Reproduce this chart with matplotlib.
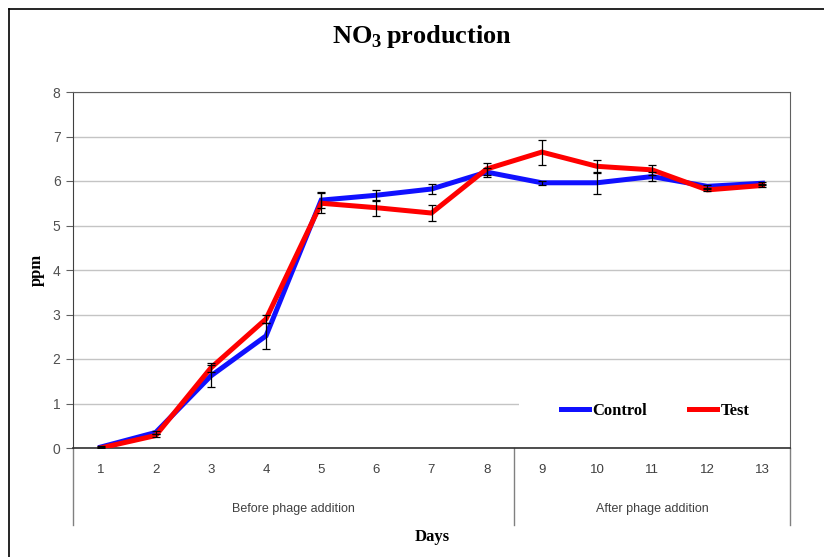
import numpy as np
import matplotlib.pyplot as plt
from matplotlib.patches import Rectangle
from matplotlib.lines import Line2D
import matplotlib.transforms as mtrans

plt.rcParams['mathtext.fontset'] = 'custom'
plt.rcParams['mathtext.rm'] = 'Liberation Serif:bold'
plt.rcParams['mathtext.bf'] = 'Liberation Serif:bold'

# data
days = [1, 2, 3, 4, 5, 6, 7, 8, 9, 10, 11, 12, 13]
control = [0.02, 0.35, 1.62, 2.52, 5.57, 5.68, 5.82, 6.20, 5.96, 5.96, 6.10, 5.88, 5.95]
control_err = [0.02, 0.03, 0.25, 0.30, 0.18, 0.12, 0.11, 0.10, 0.05, 0.25, 0.10, 0.03, 0.03]
test = [0.00, 0.28, 1.80, 2.90, 5.50, 5.40, 5.28, 6.27, 6.65, 6.33, 6.25, 5.80, 5.90]
test_err = [0.02, 0.03, 0.10, 0.08, 0.22, 0.18, 0.17, 0.13, 0.28, 0.14, 0.12, 0.03, 0.03]
groups = ['Before phage addition', 'After phage addition']
group_edges = [0.5, 8.5, 13.5]

serif = ['Liberation Serif', 'DejaVu Serif']
narrow = ['Liberation Sans Narrow', 'Liberation Sans', 'DejaVu Sans']

fig = plt.figure(figsize=(8.24, 5.57), dpi=100)
ax = fig.add_axes([73/824, 1 - 448/557, 717/824, 356/557])

# frame around the chart area
fig.add_artist(Line2D([9/824, 1], [1 - 9/557, 1 - 9/557], color='black', lw=1.2))
fig.add_artist(Line2D([9/824, 9/824], [0, 1 - 9/557], color='black', lw=1.2))

ax.plot(days, control, color='#1010ff', lw=3.6, label='Control', zorder=3, solid_joinstyle='miter')
ax.plot(days, test, color='#ff0000', lw=3.6, label='Test', zorder=4, solid_joinstyle='miter')
ax.errorbar(days, control, yerr=control_err, fmt='none', ecolor='black', elinewidth=0.9, capsize=3, capthick=0.9, zorder=5)
ax.errorbar(days, test, yerr=test_err, fmt='none', ecolor='black', elinewidth=0.9, capsize=3, capthick=0.9, zorder=5)

ax.set_xlim(0.5, 13.5)
ax.set_ylim(0, 8)
ax.set_yticks(range(0, 9))
ax.yaxis.grid(True, color='#c4c4c4', lw=1.0)
ax.set_axisbelow(True)

# white box behind legend hides the gridline
ax.add_patch(Rectangle((0.622, 0.03), 0.378, 0.14, transform=ax.transAxes,
                       facecolor='white', edgecolor='none', zorder=1))

for s in ['top', 'right']:
    ax.spines[s].set_color('#606060')
ax.spines['left'].set_color('#404040')
ax.spines['bottom'].set_color('#303030')
ax.spines['bottom'].set_linewidth(1.2)

ax.tick_params(axis='y', direction='out', length=5, color='#606060', labelcolor='#505050', labelsize=10, pad=4)
for lab in ax.get_yticklabels():
    lab.set_family(narrow)
ax.set_xticks([])

# category axis with groups
trans = mtrans.blended_transform_factory(ax.transData, ax.transAxes)
for d in days:
    ax.text(d, -22/356, str(d), transform=trans, ha='center', va='center',
            fontsize=9.5, color='#404040', family=narrow)
for x in group_edges:
    ax.plot([x, x], [0, -77/356], transform=trans, color='#808080', lw=1.0, clip_on=False)
for i, g in enumerate(groups):
    ax.text((group_edges[i] + group_edges[i + 1]) / 2, -61/356, g, transform=trans,
            ha='center', va='center', fontsize=9, color='#404040', family=narrow)

fig.text(432/824, 1 - 537/557, 'Days', ha='center', va='center', fontsize=12, fontweight='bold', family=serif)
fig.text(37/824, 1 - 270/557, 'ppm', ha='center', va='center', rotation=90, fontsize=12, fontweight='bold', family=serif)
fig.text(422/824, 1 - 37/557, r'NO$_{3}\,$production', ha='center', va='center', fontsize=19, fontweight='bold', family=serif)

leg = ax.legend(loc='center', bbox_to_anchor=(0.812, 0.104), ncol=2, frameon=False,
                handlelength=1.7, handletextpad=0.2, columnspacing=2.5,
                prop={'family': serif, 'weight': 'bold', 'size': 12})

fig.savefig('out.png', dpi=100)
